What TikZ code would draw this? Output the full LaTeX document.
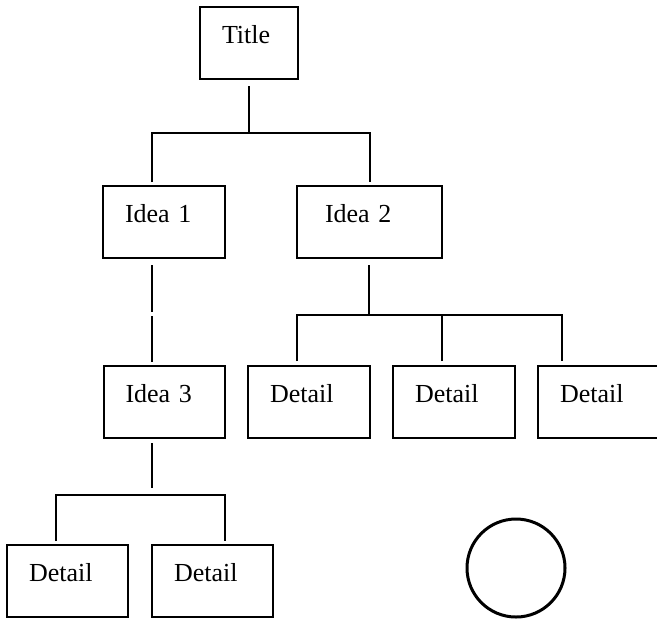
\documentclass[tikz,border=0pt]{standalone}
\usepackage{fontspec}
\setmainfont{Liberation Serif}
\usepackage{tikz}
\usetikzlibrary{positioning}

\begin{document}
\begin{tikzpicture}[
		x=0.5pt,
		y=-0.5pt,
		font=\fontsize{13pt}{15pt}\selectfont,
		box/.style={draw, line width=1pt, inner xsep=11pt, inner ysep=0pt, text height=18pt, text depth=18pt, align=left},
		link/.style={line width=1pt},
		ring/.style={draw, circle, line width=1.5pt, minimum size=49pt, inner sep=0pt}
		]
		\useasboundingbox (0,0) rectangle (657,618);
		\clip (0,0) rectangle (657,618);
		
		% Boxes
		\node[box, text width=27pt] (title) at (249,43) {Title};
		\node[box, text width=39pt] (idea1) at (164,222) {Idea 1};
		\node[box, text width=44.5pt, inner xsep=14pt] (idea2) at (369.5,222) {Idea 2};
		\node[box, text width=38.5pt] (idea3) at (164,402) {Idea 3};
		
		\node[box, text width=39pt] (d1) at (309,402) {Detail};
		\node[box, text width=39pt] (d2) at (454,402) {Detail};
		\node[box, text width=39pt] (d3) at (599,402) {Detail};
		\node[box, text width=38.5pt] (d4) at (67.5,581) {Detail};
		\node[box, text width=38.5pt] (d5) at (212.5,581) {Detail};
		
		% Circle
		\node[ring] (mark) at (516,568) {};
		
		% Junctions
		\coordinate (j1) at (249,133);
		\coordinate (g1) at (152,314);
		\coordinate (j2) at (369,315);
		\coordinate (j3) at (152,495);
		
		% Title to ideas
		\draw[link, shorten <=3pt] (title) -- (j1);
		\draw[link, shorten <=1.5pt, shorten >=1.5pt] ([xshift=-6pt]idea1.north) |- (j1) -| (idea2.north);
		
		% Idea 1 to idea 3
		\draw[link, shorten <=3pt, shorten >=1pt] ([xshift=-6pt]idea1.south) -- (g1);
		\draw[link, shorten <=1pt, shorten >=1.5pt] (g1) -- ([xshift=-6pt]idea3.north);
		
		% Idea 2 to details
		\draw[link, shorten <=3pt] ([xshift=-0.25pt]idea2.south) -- (j2);
		\draw[link, shorten <=2pt, shorten >=2pt] ([xshift=-6pt]d1.north) |- (j2) -| ([xshift=-18.5pt]d3.north);
		\draw[link, shorten <=2pt] ([xshift=-6pt]d2.north) -- ([xshift=-6pt]d2.north |- j2);
		
		% Idea 3 to details
		\draw[link, shorten <=2pt, shorten >=3.5pt] ([xshift=-6pt]idea3.south) -- (j3);
		\draw[link, shorten <=1.5pt, shorten >=1.5pt] ([xshift=-6pt]d4.north) |- (j3) -| ([xshift=6pt]d5.north);
	\end{tikzpicture}
\end{document}
